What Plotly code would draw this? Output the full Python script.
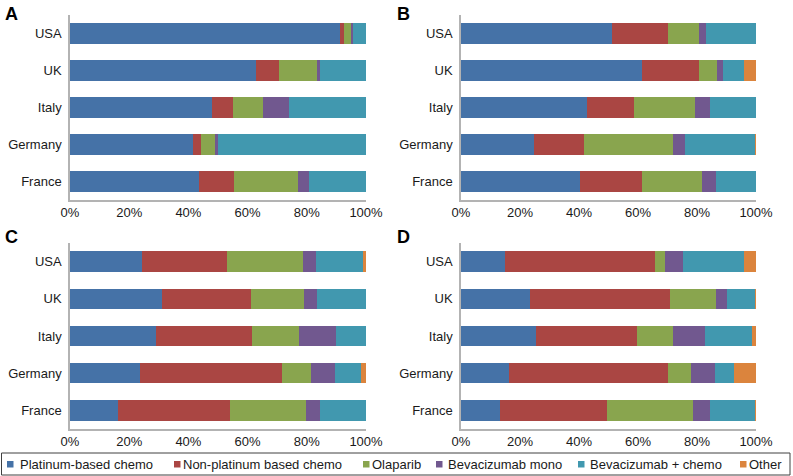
import plotly.graph_objects as go

W, H = 793, 476

countries = ["USA", "UK", "Italy", "Germany", "France"]
series_names = ["Platinum-based chemo", "Non-platinum based chemo", "Olaparib",
                "Bevacizumab mono", "Bevacizumab + chemo", "Other"]
colors = ["#4572A7", "#AA4643", "#89A54E", "#71588F", "#4198AF", "#DB843D"]
tick_vals = [0, 20, 40, 60, 80, 100]
tick_text = ["0%", "20%", "40%", "60%", "80%", "100%"]
panel_labels = ["A", "B", "C", "D"]

# values per panel: rows = series (in series_names order), columns = countries
panel_A = [
    [91.3, 62.9, 48.0, 41.5, 43.5],
    [1.3, 7.7, 7.2, 2.6, 12.0],
    [2.4, 12.8, 10.0, 5.2, 21.4],
    [0.5, 1.2, 8.9, 0.6, 3.7],
    [4.5, 15.4, 25.9, 50.1, 19.4],
    [0.0, 0.0, 0.0, 0.0, 0.0],
]
panel_B = [
    [51.2, 61.2, 42.6, 24.7, 40.5],
    [19.1, 19.4, 16.0, 17.0, 20.7],
    [10.3, 6.3, 20.7, 30.3, 20.5],
    [2.4, 1.8, 5.0, 3.8, 4.7],
    [17.0, 7.1, 15.7, 24.0, 13.6],
    [0.0, 4.2, 0.0, 0.2, 0.0],
]
panel_C = [
    [24.4, 31.1, 28.9, 23.6, 16.3],
    [28.5, 30.0, 32.6, 48.1, 37.8],
    [25.7, 17.8, 16.0, 9.7, 25.6],
    [4.5, 4.5, 12.3, 8.0, 4.9],
    [15.8, 16.6, 10.2, 8.9, 15.4],
    [1.1, 0.0, 0.0, 1.7, 0.0],
]
panel_D = [
    [14.9, 23.3, 25.3, 16.4, 13.3],
    [50.9, 47.4, 34.5, 53.9, 36.1],
    [3.4, 15.6, 12.2, 7.5, 29.2],
    [6.0, 3.8, 10.6, 8.3, 5.8],
    [20.8, 9.6, 16.0, 6.6, 15.3],
    [4.0, 0.3, 1.4, 7.3, 0.3],
]
panels = [panel_A, panel_B, panel_C, panel_D]

FONT = "Liberation Sans, Arial, sans-serif"
TXT = "#1a1a1a"

# layout geometry (pixels)
x_doms = [(70, 366), (461, 756), (70, 366), (461, 756)]
y_doms = [(15, 200), (15, 200), (243, 429), (243, 429)]
label_pos = [(3, 14), (395, 14), (3, 237), (395, 237)]

fig = go.Figure()
layout = {}
for p, data in enumerate(panels):
    xa = "x" if p == 0 else f"x{p+1}"
    ya = "y" if p == 0 else f"y{p+1}"
    for s, name in enumerate(series_names):
        fig.add_trace(go.Bar(
            x=data[s], y=countries, orientation="h", name=name,
            marker=dict(color=colors[s], line=dict(width=0)),
            xaxis=xa, yaxis=ya, showlegend=False,
            hovertemplate=name + ": %{x}%<extra>%{y}</extra>",
        ))
    xk = "xaxis" if p == 0 else f"xaxis{p+1}"
    yk = "yaxis" if p == 0 else f"yaxis{p+1}"
    x0, x1 = x_doms[p]
    y0, y1 = y_doms[p]
    layout[xk] = dict(
        domain=[x0 / W, x1 / W], range=[0, 100], anchor=ya, automargin=False,
        tickvals=tick_vals, ticktext=tick_text, showgrid=False, zeroline=False,
        showline=True, linecolor="#b3b3b3", linewidth=1.5, ticks="",
        tickfont=dict(family=FONT, size=13, color=TXT), fixedrange=True,
    )
    layout[yk] = dict(
        domain=[1 - y1 / H, 1 - y0 / H], anchor=xa, autorange="reversed",
        automargin=False, ticklabelstandoff=4,
        showgrid=False, zeroline=False, showline=True, linecolor="#b3b3b3",
        linewidth=1.5, ticks="",
        tickfont=dict(family=FONT, size=13, color=TXT), fixedrange=True,
    )

annotations = []
for p, lab in enumerate(panel_labels):
    lx, ly = label_pos[p]
    annotations.append(dict(
        text=f"<b>{lab}</b>", x=lx / W, y=1 - ly / H, xref="paper", yref="paper",
        xanchor="left", yanchor="middle", showarrow=False,
        font=dict(family=FONT, size=18, color="#000"),
    ))

# manual legend
leg_sq = [7, 174, 363, 436, 578, 740]
leg_tx = [20, 183, 372, 448, 590, 749]
leg_y = 464
shapes = [dict(type="rect", xref="paper", yref="paper",
               x0=1.5 / W, x1=790 / W, y0=1 - 475 / H, y1=1 - 453 / H,
               line=dict(color="#404040", width=1), fillcolor="rgba(0,0,0,0)")]
for i, name in enumerate(series_names):
    sx = leg_sq[i]
    shapes.append(dict(type="rect", xref="paper", yref="paper",
                       x0=sx / W, x1=(sx + 6.5) / W,
                       y0=1 - (leg_y + 3.5) / H, y1=1 - (leg_y - 3) / H,
                       line=dict(width=0), fillcolor=colors[i]))
    annotations.append(dict(
        text=name, x=leg_tx[i] / W, y=1 - leg_y / H, xref="paper", yref="paper",
        xanchor="left", yanchor="middle", showarrow=False, xshift=-2,
        font=dict(family=FONT, size=13, color=TXT),
    ))

fig.update_layout(
    template="none",
    barmode="stack", bargap=0.45, width=W, height=H, autosize=False,
    margin=dict(l=0, r=0, t=0, b=0, pad=0),
    paper_bgcolor="white", plot_bgcolor="white",
    annotations=annotations, shapes=shapes, showlegend=False,
    font=dict(family=FONT, color=TXT),
    **layout,
)

fig.write_html(
    "out.html",
    config={"displayModeBar": False},
    post_script="document.body.style.margin='0';document.body.style.padding='0';"
                "document.body.style.overflow='hidden';",
)
